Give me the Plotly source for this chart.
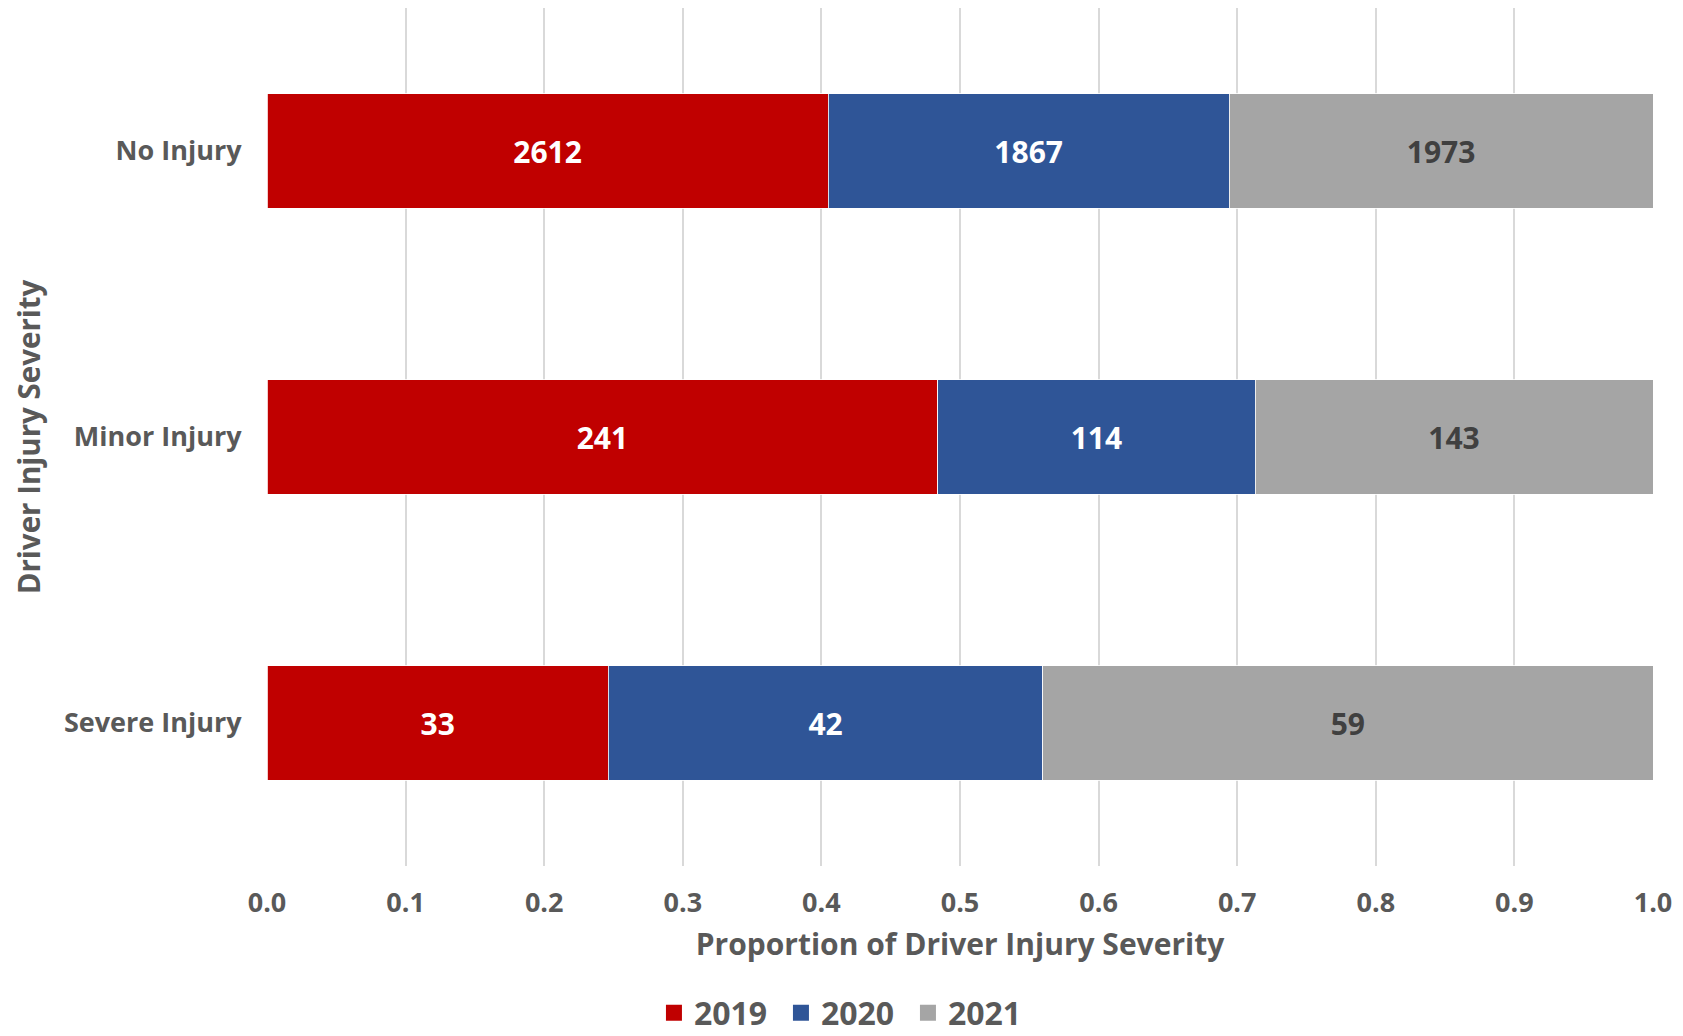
import plotly.graph_objects as go

categories = ["No Injury", "Minor Injury", "Severe Injury"]
years = ["2019", "2020", "2021"]
counts_2019 = [2612, 241, 33]
counts_2020 = [1867, 114, 42]
counts_2021 = [1973, 143, 59]
x_ticks = [0.0, 0.1, 0.2, 0.3, 0.4, 0.5, 0.6, 0.7, 0.8, 0.9, 1.0]

colors = ["#C00000", "#2F5597", "#A5A5A5"]
text_colors = ["#FFFFFF", "#FFFFFF", "#404040"]
font_family = "Open Sans"
grey_text = "#595959"

fig = go.Figure()
for year, vals, col, tcol in zip(
    years, [counts_2019, counts_2020, counts_2021], colors, text_colors
):
    fig.add_trace(
        go.Bar(
            x=vals,
            y=categories,
            orientation="h",
            name=year,
            legendgroup=year,
            showlegend=False,
            text=vals,
            texttemplate="%{text}",
            textposition="inside",
            insidetextanchor="middle",
            textangle=0,
            constraintext="none",
            textfont=dict(family=font_family, size=30, color=tcol, weight="bold"),
            marker=dict(color=col, line=dict(color="#FFFFFF", width=0.8)),
        )
    )
    # legend-only entry so the swatch can be a larger square
    fig.add_trace(
        go.Scatter(
            x=[None],
            y=[None],
            mode="markers",
            name=year,
            legendgroup=year,
            marker=dict(symbol="square", size=16, color=col),
        )
    )

fig.update_layout(
    width=1683,
    height=1036,
    barmode="stack",
    barnorm="fraction",
    bargap=0.6,
    plot_bgcolor="#FFFFFF",
    paper_bgcolor="#FFFFFF",
    font=dict(family=font_family, size=27, color=grey_text, weight="bold"),
    margin=dict(l=259, r=38, t=0, b=178),
    showlegend=True,
    legend=dict(
        orientation="h",
        xref="container",
        yref="container",
        x=0.497,
        xanchor="center",
        y=0.03,
        yanchor="middle",
        font=dict(size=32, color=grey_text, family=font_family, weight="bold"),
        itemwidth=30,
        itemsizing="trace",
        entrywidth=82,
        traceorder="normal",
    ),
    xaxis=dict(
        range=[0, 1],
        tickvals=x_ticks,
        tickformat=".1f",
        showgrid=True,
        gridcolor="#D9D9D9",
        gridwidth=1.5,
        zeroline=False,
        showline=False,
        ticks="outside",
        ticklen=13,
        tickcolor="rgba(0,0,0,0)",
        tickfont=dict(size=27, color=grey_text),
        title=dict(
            text="Proportion of Driver Injury Severity",
            font=dict(size=30, color=grey_text),
            standoff=14,
        ),
    ),
    yaxis=dict(
        autorange="reversed",
        showgrid=False,
        zeroline=False,
        showline=False,
        ticks="outside",
        ticklen=19,
        tickcolor="rgba(0,0,0,0)",
        tickfont=dict(size=27, color=grey_text),
        title=dict(
            text="Driver Injury Severity",
            font=dict(size=29.5, color=grey_text),
            standoff=16,
        ),
    ),
)

fig.write_html("out.html")
